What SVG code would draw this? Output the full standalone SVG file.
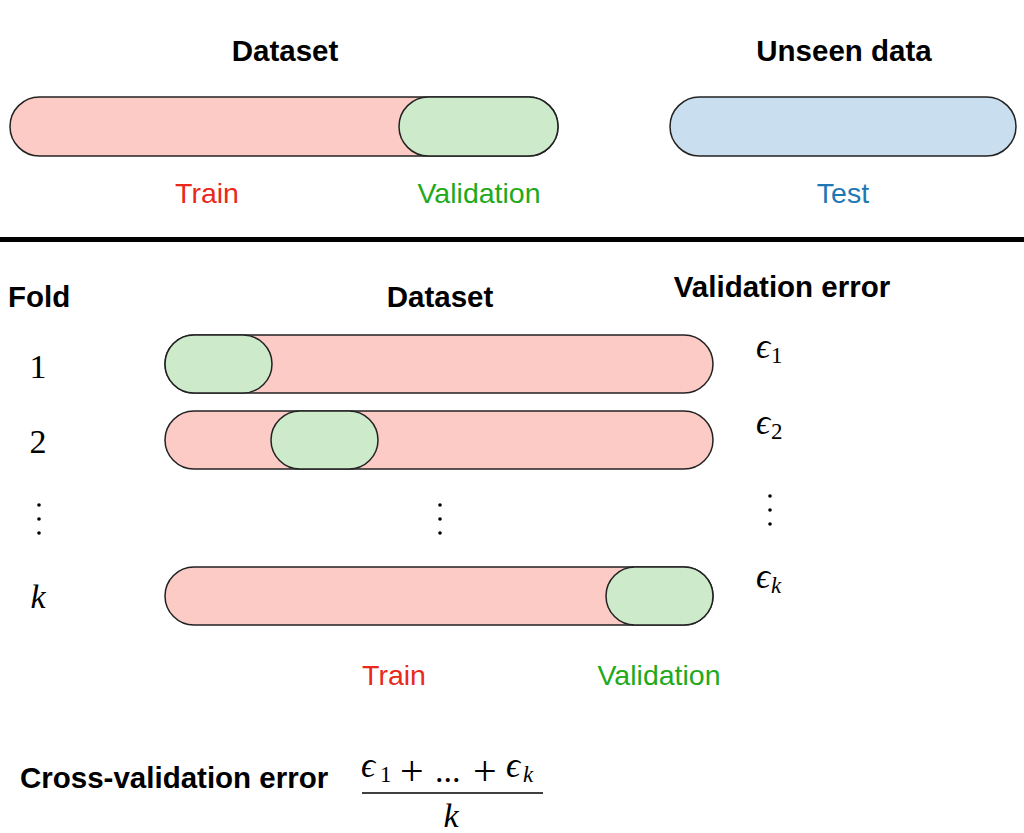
<svg xmlns="http://www.w3.org/2000/svg" width="1024" height="833" viewBox="0 0 1024 833">
<style>
.bg{fill:#ffffff}
.train{fill:#fccbc6;stroke:#222;stroke-width:1.5}
.val{fill:#cdebcb;stroke:#222;stroke-width:1.5}
.test{fill:#c9deee;stroke:#222;stroke-width:1.5}
.h{font-family:"Liberation Sans",Arial,sans-serif;font-weight:bold;font-size:29.5px;fill:#000}
.l{font-family:"Liberation Sans",Arial,sans-serif;font-size:28.5px}
.red{fill:#e8291c}
.grn{fill:#22a91a}
.blu{fill:#1f77b4}
.m{font-family:"Liberation Serif","DejaVu Serif",serif;font-size:34px;fill:#000}
.eps{font-size:35px;font-style:italic}
.it{font-style:italic}
.sub{font-size:23px}
.plus{font-size:42px}
.dot{fill:#000}
</style>
<rect class="bg" x="0" y="0" width="1024" height="833"/>

<g id="top-dataset">
<text class="h" x="285" y="61" text-anchor="middle">Dataset</text>
<rect class="train" x="10" y="97" width="548" height="59" rx="29.5"/>
<rect class="val" x="399" y="97" width="159" height="59" rx="29.5"/>
<text class="l red" x="207" y="203" text-anchor="middle">Train</text>
<text class="l grn" x="479" y="203" text-anchor="middle">Validation</text>
</g>

<g id="top-unseen">
<text class="h" x="844" y="61" text-anchor="middle">Unseen data</text>
<rect class="test" x="670" y="97" width="346" height="59" rx="29.5"/>
<text class="l blu" x="843" y="203" text-anchor="middle">Test</text>
</g>

<g id="divider">
<rect x="0" y="237" width="1024" height="5" fill="#000"/>
</g>

<g id="headers">
<text class="h" x="8" y="307">Fold</text>
<text class="h" x="440" y="307" text-anchor="middle">Dataset</text>
<text class="h" x="782" y="297" text-anchor="middle">Validation error</text>
</g>

<g id="fold1">
<text class="m" x="38" y="378" text-anchor="middle">1</text>
<rect class="train" x="165" y="335" width="548" height="58" rx="29"/>
<rect class="val" x="165" y="335" width="107" height="58" rx="29"/>
<text class="m" x="756" y="358"><tspan class="eps">ϵ</tspan><tspan class="sub" dx="1" dy="5">1</tspan></text>
</g>

<g id="fold2">
<text class="m" x="38" y="453" text-anchor="middle">2</text>
<rect class="train" x="165" y="411" width="548" height="58" rx="29"/>
<rect class="val" x="271" y="411" width="107" height="58" rx="29"/>
<text class="m" x="756" y="434"><tspan class="eps">ϵ</tspan><tspan class="sub" dx="1" dy="5">2</tspan></text>
</g>

<g id="ellipses">
<circle class="dot" cx="39" cy="505" r="1.8"/>
<circle class="dot" cx="39" cy="519" r="1.8"/>
<circle class="dot" cx="39" cy="533" r="1.8"/>
<circle class="dot" cx="440" cy="505" r="1.8"/>
<circle class="dot" cx="440" cy="519" r="1.8"/>
<circle class="dot" cx="440" cy="533" r="1.8"/>
<circle class="dot" cx="770" cy="496" r="1.8"/>
<circle class="dot" cx="770" cy="510" r="1.8"/>
<circle class="dot" cx="770" cy="524" r="1.8"/>
</g>

<g id="foldk">
<text class="m it" x="38" y="608" text-anchor="middle">k</text>
<rect class="train" x="165" y="567" width="548" height="58" rx="29"/>
<rect class="val" x="606" y="567" width="107" height="58" rx="29"/>
<text class="m" x="756" y="588"><tspan class="eps">ϵ</tspan><tspan class="sub it" dx="1" dy="5">k</tspan></text>
</g>

<g id="bottom-legend">
<text class="l red" x="394" y="685" text-anchor="middle">Train</text>
<text class="l grn" x="659" y="685" text-anchor="middle">Validation</text>
</g>

<g id="cv-error">
<text class="h" x="20" y="788">Cross-validation error</text>
<text class="m"><tspan class="eps" x="361" y="777">ϵ</tspan><tspan class="sub" x="380" y="782">1</tspan><tspan class="plus" x="400" y="785">+</tspan><tspan x="435" y="782">...</tspan><tspan class="plus" x="473" y="785">+</tspan><tspan class="eps" x="506" y="777">ϵ</tspan><tspan class="sub it" x="523" y="782">k</tspan></text>
<line x1="362" y1="793" x2="543" y2="793" stroke="#000" stroke-width="1.6"/>
<text class="m it" x="451" y="827" text-anchor="middle" font-size="36">k</text>
</g>
</svg>
